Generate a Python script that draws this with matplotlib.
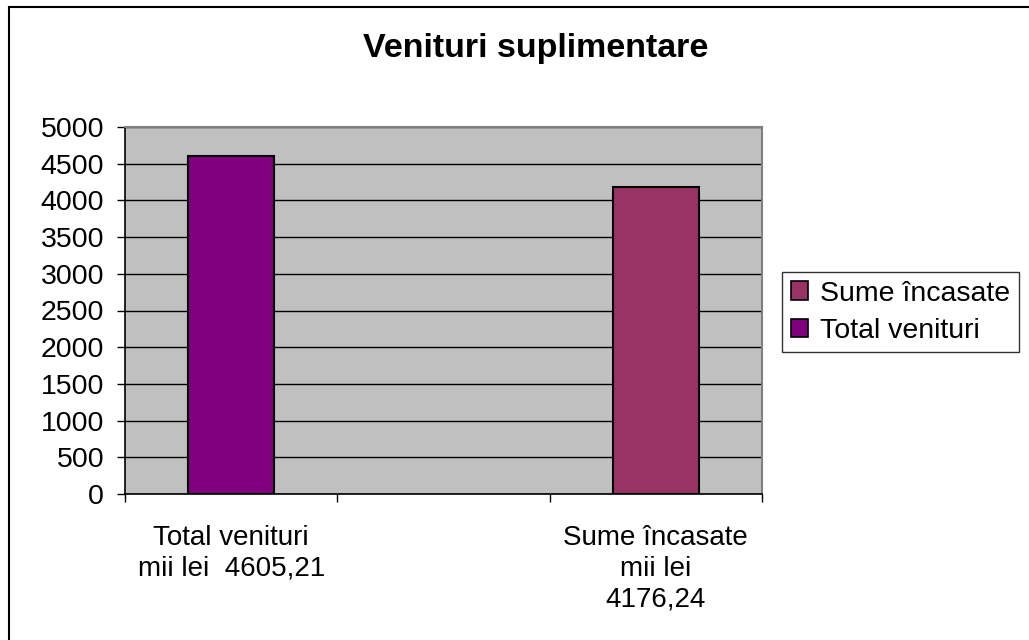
import matplotlib
matplotlib.use("Agg")
import matplotlib.pyplot as plt
from matplotlib.patches import Rectangle, Patch

plt.rcParams['font.family'] = ['Liberation Sans', 'DejaVu Sans']

categories = ["Total venituri\nmii lei  4605,21", "", "Sume încasate\nmii lei\n4176,24"]
series_names = ["Total venituri", "Sume încasate"]
values = [4605.21, 4176.24]
bar_positions = [0, 2]
colors = ["#800080", "#993366"]
yticks = [0, 500, 1000, 1500, 2000, 2500, 3000, 3500, 4000, 4500, 5000]
title = "Venituri suplimentare"

W, H = 1029, 640
fig = plt.figure(figsize=(W/100, H/100), dpi=100)
fig.patch.set_facecolor("white")

# outer chart border (clipped on right and bottom)
fig.patches.append(Rectangle((8.5/W, -0.2), 1.5, 1.2 - 6.5/H, transform=fig.transFigure,
                             fill=False, edgecolor="black", linewidth=1.5))

ax = fig.add_axes([125/W, 1 - 494/H, (762-125)/W, (494-127)/H])
ax.set_facecolor("#C0C0C0")
ax.set_xlim(-0.5, 2.5)
ax.set_ylim(0, 5000)

ax.set_axisbelow(True)
ax.yaxis.grid(True, color="black", linewidth=1.0)
ax.set_yticks(yticks)
ax.set_yticklabels([str(v) for v in yticks], fontsize=20.5)
ax.tick_params(axis="y", direction="out", length=6, width=1, pad=9)

ax.set_xticks([-0.5, 0.5, 1.5, 2.5])
ax.set_xticklabels([])
ax.tick_params(axis="x", which="major", direction="out", length=6, width=1)
ax.set_xticks([0, 1, 2], minor=True)
ax.set_xticklabels(categories, minor=True, fontsize=20, linespacing=1.25, va="top")
ax.tick_params(axis="x", which="minor", length=0, pad=22)

for s in ["left", "bottom"]:
    ax.spines[s].set_color("black")
    ax.spines[s].set_linewidth(1.2)
for s in ["top", "right"]:
    ax.spines[s].set_color("#808080")
    ax.spines[s].set_linewidth(1.5)

for pos, val, c in zip(bar_positions, values, colors):
    ax.bar(pos, val, width=0.405, color=c, edgecolor="black", linewidth=1.5, zorder=3)

fig.text(536/W, 1 - 48/H, title, ha="center", va="center", fontsize=24.5, fontweight="bold")

handles = [Patch(facecolor=colors[1], edgecolor="black", linewidth=1.2, label=series_names[1]),
           Patch(facecolor=colors[0], edgecolor="black", linewidth=1.2, label=series_names[0])]
leg = fig.legend(handles=handles, loc="upper left", bbox_to_anchor=(782/W, 1 - 272/H),
                 fontsize=20.5, frameon=True, fancybox=False, edgecolor="black",
                 handlelength=0.6, handleheight=0.6, handletextpad=0.45,
                 borderpad=0.3, labelspacing=0.4, borderaxespad=0)
leg.get_frame().set_linewidth(1.0)

fig.savefig("out.png", dpi=100)
